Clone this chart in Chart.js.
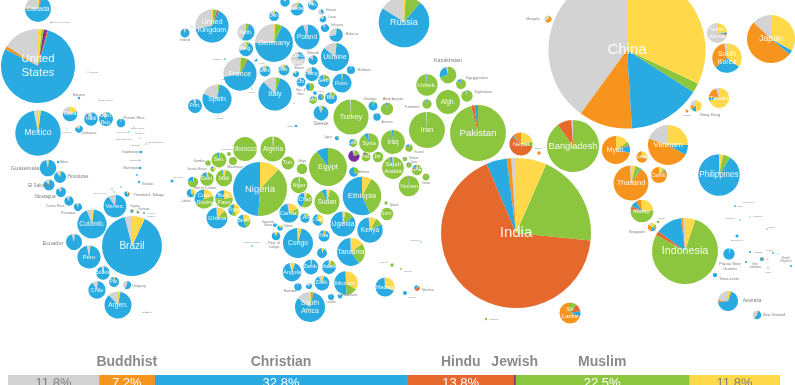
<!DOCTYPE html>
<html>
<head>
<meta charset="utf-8">
<style>
  html, body { margin: 0; padding: 0; background: #fff; overflow: hidden; }
  #wrap { position: relative; width: 795px; height: 385px; overflow: hidden; }
  canvas { position: absolute; left: 0; filter: blur(0.35px); }
  #mapChart { top: 0; }
  #worldChart { top: 350px; }
</style>
<script src="https://cdn.jsdelivr.net/npm/chart.js@4"></script>
</head>
<body>
<div id="wrap">
  <canvas id="mapChart" width="795" height="350"></canvas>
  <canvas id="worldChart" width="795" height="46"></canvas>
</div>
<script>
// World total
const religions = ["Unaffiliated", "Buddhist", "Christian", "Hindu", "Jewish", "Muslim", "Folk"];
const worldShare = [11.8, 7.2, 32.8, 13.8, 0.2, 22.5, 11.8];
const religionColours = ["#d3d3d3", "#f7941e", "#29abe2", "#e5682c", "#7b2d9e", "#8cc63f", "#ffd94a"];

// Countries, one line per region. Every array below follows this order.
const countries = [
  "Canada", "United States", "Mexico", "Cuba", "Haiti", "Dominican Republic", "Puerto Rico", "Jamaica", "Guatemala", "Honduras", "El Salvador", "Nicaragua", "Costa Rica", "Panama", "Venezuela", "Trinidad & Tobago", "Guyana", "Suriname", "Colombia", "Brazil", "Ecuador", "Peru", "Bolivia", "Paraguay", "Uruguay", "Chile", "Argentina",
  "United Kingdom", "Ireland", "Netherlands", "Belgium", "Germany", "Denmark", "Norway", "Sweden", "Finland", "France", "Spain", "Portugal", "Italy", "Switzerland", "Austria", "Czech Republic", "Slovakia", "Poland", "Estonia", "Latvia", "Lithuania", "Belarus", "Ukraine", "Moldova", "Hungary", "Slovenia", "Croatia", "Bosnia", "Serbia", "Romania", "Kosovo", "Macedonia", "Albania", "Bulgaria", "Greece", "Cyprus", "Russia", "Luxembourg",
  "Turkey", "Georgia", "Armenia", "Azerbaijan", "Kazakhstan", "Uzbekistan", "Kyrgyzstan", "Tajikistan", "Afghanistan", "Turkmenistan", "Iran", "Pakistan", "Syria", "Iraq", "Lebanon", "Israel", "Palestine", "Jordan", "Kuwait", "Bahrain", "Qatar", "UAE", "Saudi Arabia", "Oman", "Yemen",
  "Egypt", "Libya", "Tunisia", "Algeria", "Morocco", "Nigeria", "Senegal", "Western Sahara", "Mauritania", "Gambia", "Guinea-Bissau", "Guinea", "Mali", "Sierra Leone", "Liberia", "Cote d'Ivoire", "Burkina Faso", "Ghana", "Togo", "Benin", "Niger", "Chad", "Cameroon", "CAR", "Equatorial Guinea", "Gabon", "Rep. of Congo", "Congo", "Angola", "Namibia", "South Africa", "Sudan", "South Sudan", "Ethiopia", "Eritrea", "Djibouti", "Somalia", "Uganda", "Kenya", "Rwanda", "Burundi", "Tanzania", "Zambia", "Malawi", "Zimbabwe", "Botswana", "Mozambique", "Lesotho", "Swaziland", "Madagascar", "Mauritius",
  "India", "Nepal", "Bangladesh", "Sri Lanka", "China", "Mongolia", "North Korea", "South Korea", "Japan", "Taiwan", "Hong Kong", "Myanmar", "Laos", "Vietnam", "Thailand", "Cambodia", "Malaysia", "Singapore", "Philippines", "Indonesia", "Timor-Leste", "Papua New Guinea", "Australia", "New Zealand", "Fiji"
];
const mapX = [
  38,38,38,70,91,106,121,79,48,60,49,61,69,78,115,127,132,138,92,132,74,89,103,114,127,97,118,
  212,185,246,246,274,274,285,297,313,240,217,195,275,265,284,298,313,307,321,323,325,336,335,351,312,296,301,310,324,342,315,321,313,331,321,337,404,256,
  351,373,377,387,448,427,461,467,448,427,427,478,369,393,353,354,366,378,409,405,409,417,393,426,409,
  328,302,288,273,245,260,219,229,233,208,213,207,224,193,191,204,224,217,234,244,299,305,289,305,275,280,276,298,292,298,310,327,318,362,354,386,387,343,370,324,322,351,311,329,322,309,346,331,340,385,417,
  516,521,573,570,627,548,717,727,771,719,696,616,642,668,631,659,642,652,719,685,715,729,728,757,762
];
const mapY = [
  9,66,133,114,119,119,123,129,168,177,185,192,201,207,206,194,211,212,224,246,242,257,273,282,285,290,305,
  26,33,32,49,43,16,2,9,5,74,99,106,94,71,70,59,60,37,12,19,28,35,57,70,74,74,82,87,81,83,93,97,100,98,113,138,22,60,
  117,106,117,109,75,85,84,96,102,104,130,133,143,142,143,156,157,157,148,159,165,170,168,177,186,
  167,169,163,149,149,189,160,154,161,163,169,179,178,182,193,199,199,218,210,221,185,200,213,218,225,228,236,243,272,287,307,202,220,196,172,203,214,224,230,236,253,252,267,267,283,286,283,297,296,287,288,
  233,144,146,313,50,19,33,58,39,98,106,150,157,145,183,175,211,227,175,251,275,254,301,315,259
];
// Population in millions
const population = [
  36,297,112,11.6,10,10.6,4,3,15,7.8,6.6,5.4,4.8,3.5,28,1.6,.7,.5,46,195,14,29,10,5.4,3.5,16.4,39.5,
  60,4.4,16,11,78,5.5,4.8,9.4,5.4,60,46,10.6,60,6.6,6.6,10.6,4.8,34,1.6,2.4,3.5,10,43,3.5,10.6,2,4.4,3.5,7.8,20,.8,2,3.2,7.8,12,1.1,139,.5,
  67,4.4,3,8.3,15,25,5.4,7,31,4.8,70,170,21,31,3.5,7,4.4,6,3,1.2,1.6,6,26,2.5,23,
  78,6,9,34,31,158,12,.9,3.5,1.6,1.6,10,15,6,4,20,17,24,7,9.5,15,12,20,5,.9,1.6,4,49,19,3,49,34,7,81,5,.6,8.6,34,35,7,5.4,42,12,10.6,12,2,30,2,1.2,20,1.7,
  1220,29,147,24,1340,2.7,21.7,47,125,22,7,43,7,87,66,14,28,4,93,236,1.1,7,22,4,.9
];
// Share of each religion, percent
const unaffiliated = [
  24,16,3,23,10,11,2,17,4,10,12,13,9,7,10,2,2,5,6,4,5,3,4,1,41,9,12,
  28,6,42,29,25,12,10,27,18,28,19,4,12,12,13,76,15,5,60,21,10,28,14,2,19,18,6,2,3,1,1,1,2,5,6,1,16,26,
  1,1,1,0,4,1,1,2,0,1,1,0,1,0,1,3,0,0,0,2,1,1,1,0,0,
  0,0,0,1,0,0,0,0,0,1,0,2,3,0,1,0,0,1,0,3,0,3,3,1,5,6,9,1,5,3,15,1,1,0,0,0,0,1,2,1,1,1,1,1,8,20,1,3,10,1,0,
  1,0,1,0,40,35,71,3,13,5,23,0,1,20,1,0,1,16,0,1,0,0,24,37,1
];
const buddhist = [
  1,1.5,0,0,0,0,0,0,0,0,0,0,0,0,0,0,0,1,0,0,0,0,0,0,0,0,0,
  0,0,0,0,0,0,0,0,0,0,0,0,0,0,0,0,0,0,0,0,0,0,0,0,0,0,0,0,0,0,0,0,0,0,0,0,0,0,
  0,0,0,0,0,0,0,0,0,0,0,0,0,0,0,0,0,0,0,2,3,2,0,1,0,
  0,0,0,0,0,0,0,0,0,0,0,0,0,0,0,0,0,0,0,0,0,0,0,0,0,0,0,0,0,0,0,0,0,0,0,0,0,0,0,0,0,0,0,0,0,0,0,0,0,0,0,
  1,12,0,70,11,55,2,33,51,20,13,72,66,47,89,85,8,33,0,1,0,0,3,2,0
];
const christian = [
  69,78,95,59,87,88,97,77,95,88,87,86,90,91,89,65,66,52,92,89,94,95,93,96,58,90,85,
  65,92,50,64,68,83,85,67,81,63,78,94,83,81,80,23,85,94,40,76,90,71,84,97,81,78,93,46,77,98,90,59,18,80,88,73,73,71,
  0,89,98,3,26,2,11,1,0,6,0,2,7,2,38,2,3,5,14,14,14,13,4,6,1,
  10,3,0,0,0,49,6,0,0,4,20,11,3,21,60,35,23,74,43,53,1,40,68,85,90,76,85,95,90,97,81,6,60,57,63,3,0,84,80,93,91,59,97,80,87,72,50,97,88,67,33,
  4.4,2,0,8,15,2,3,29,3,5,14,8,2,8,1,2,9,18,91,13,99,97,67,57,64
];
const hindu = [
  1,.5,0,0,0,0,0,0,0,0,0,0,0,0,0,18,25,20,0,0,0,0,0,0,0,0,0,
  1,0,0,0,0,0,0,0,0,0,0,0,0,0,0,0,0,0,0,0,0,0,0,0,0,0,0,0,0,0,0,0,0,0,0,0,0,0,
  0,0,0,0,0,0,0,0,0,0,0,2,0,0,0,0,0,0,8,10,14,7,1,6,1,
  0,0,0,0,0,0,0,0,0,0,0,0,0,0,0,0,0,0,0,0,0,0,0,0,0,0,0,0,0,0,1,0,0,0,0,0,0,0,0,0,0,0,0,0,0,0,0,0,0,0,49,
  67,58,9,12,0,0,0,0,0,0,0,1,0,0,0,0,6,5,0,2,0,0,1,2,28
];
const jewish = [
  1,1.5,0,0,0,0,0,0,0,0,0,0,0,0,0,0,0,0,0,0,0,0,0,0,0,0,0,
  1,0,1,0,0,0,0,0,0,1,0,0,0,0,0,0,0,0,0,0,0,0,0,0,0,0,0,0,0,0,0,0,0,0,0,0,0,0,
  0,0,0,0,0,0,0,0,0,0,0,0,0,0,0,75,10,0,0,0,0,0,0,0,0,
  0,0,0,0,0,0,0,0,0,0,0,0,0,0,0,0,0,0,0,0,0,0,0,0,0,0,0,0,0,0,0,0,0,0,0,0,0,0,0,0,0,0,0,0,0,0,0,0,0,0,0,
  0,0,0,0,0,0,0,0,0,0,0,0,0,0,0,0,0,0,0,0,0,0,0,0,0
];
const muslim = [
  2,1,0,0,0,0,0,0,0,0,0,0,0,0,0,6,6,15,0,0,0,0,0,0,0,0,1,
  4,1,6,6,6,4,4,5,1,7.5,2,1,4,6,6,0,0,0,0,0,0,0,1,0,0,4,1,51,20,1,9,40,80,14,5,25,10,3,
  99,10,1,97,70,97,88,97,100,93,99,96,92,98,61,19,87,95,76,70,68,76,93,86,98,
  90,97,100,98,100,39,93,100,100,95,45,85,90,75,12,45,55,12,14,24,97,52,12,9,0,11,1,1,0,0,2,89,6,35,37,97,100,12,10,2,2,25,1,13,1,0,15,0,0,2,17,
  20,6,90,10,2,3,0,0,0,0,1,4,0,0,5,3,52,14,6,78,0,0,2,1,6
];
const folk = [
  2,1.5,2,18,3,1,1,6,1,2,1,1,1,2,1,9,1,7,2,7,1,2,3,3,1,1,2,
  1,1,0,1,1,1,1,1,0,.5,1,1,1,1,1,1,0,1,0,3,0,1,1,1,0,0,0,1,0,0,0,0,0,1,1,1,1,0,
  0,0,0,0,0,0,0,0,0,0,0,0,0,0,0,1,0,0,2,2,0,1,1,1,0,
  0,0,0,1,0,12,1,0,0,0,35,2,4,4,27,20,22,13,43,20,2,5,17,5,5,7,5,3,5,0,1,4,33,8,0,0,0,3,8,4,6,15,1,6,4,8,34,0,2,30,1,
  6.6,22,0,0,32,5,24,35,33,70,49,15,31,25,4,10,24,14,3,5,1,3,3,1,1
];
const shares = [unaffiliated, buddhist, christian, hindu, jewish, muslim, folk];

// Names written inside the pies
const insideLabels = {
  "Canada": "Canada", "United States": "United\nStates", "Mexico": "Mexico", "Cuba": "Cuba", "Haiti": "Haiti", "Dominican Republic": "Dom.\nRep.", "Venezuela": "Venez.", "Colombia": "Colomb.", "Brazil": "Brazil", "Peru": "Peru", "Bolivia": "Bolivia", "Paraguay": "Par.", "Chile": "Chile", "Argentina": "Argen.",
  "United Kingdom": "United\nKingdom", "Netherlands": "Neth.", "Belgium": "Belg.", "Germany": "Germany", "Denmark": "Den.", "Sweden": "Sweden", "Finland": "Fin.", "France": "France", "Spain": "Spain", "Portugal": "Port.", "Italy": "Italy", "Switzerland": "Switz.", "Austria": "Aus.", "Czech Republic": "Czech\nRep.", "Poland": "Poland", "Ukraine": "Ukraine", "Hungary": "Hung.", "Croatia": "Cro.", "Serbia": "Serb.", "Romania": "Rom.", "Albania": "Alb.", "Bulgaria": "Bul.", "Russia": "Russia",
  "Turkey": "Turkey", "Uzbekistan": "Uzbek.", "Afghanistan": "Afgh.", "Iran": "Iran", "Pakistan": "Pakistan", "Syria": "Syria", "Iraq": "Iraq", "Lebanon": "Leb.", "Palestine": "Pal.", "Jordan": "Jor.", "UAE": "UAE", "Saudi Arabia": "Saudi\nArabia", "Yemen": "Yemen",
  "Egypt": "Egypt", "Tunisia": "Tun.", "Algeria": "Algeria", "Morocco": "Morocco", "Nigeria": "Nigeria", "Senegal": "Sen.", "Guinea": "Guin.", "Mali": "Mali", "Cote d'Ivoire": "Cote\nd'Ivoire", "Burkina Faso": "Burk.\nFaso", "Ghana": "Ghana", "Togo": "Togo", "Benin": "Benin", "Niger": "Niger", "Chad": "Chad", "Cameroon": "Camer.", "CAR": "C.A.R.", "Congo": "Congo", "Angola": "Angola", "South Africa": "South\nAfrica", "Sudan": "Sudan", "South Sudan": "S.Sud.", "Ethiopia": "Ethiopia", "Somalia": "Som.", "Uganda": "Uganda", "Kenya": "Kenya", "Rwanda": "Rwa.", "Tanzania": "Tanzania", "Zambia": "Zamb.", "Malawi": "Malawi", "Zimbabwe": "Zimb.", "Mozambique": "Mozam.", "Madagascar": "Madag.",
  "India": "India", "Nepal": "Nepal", "Bangladesh": "Bangladesh", "Sri Lanka": "Sri\nLanka", "China": "China", "North Korea": "North\nKorea", "South Korea": "South\nKorea", "Japan": "Japan", "Taiwan": "Taiwan", "Myanmar": "Myan.", "Laos": "Laos", "Vietnam": "Vietnam", "Thailand": "Thailand", "Cambodia": "Camb.", "Malaysia": "Malay.", "Philippines": "Philippines", "Indonesia": "Indonesia"
};

// Very small places, one religion each
const islands = ["Saint Pierre", "Bermuda", "Bahamas", "Turks & Caicos", "Cayman Islands", "US Virgin Is.", "British Virgin Is.", "Anguilla", "Saint Kitts", "Antigua", "Guadeloupe", "Dominica", "Martinique", "Belize", "Barbados", "St Lucia", "St Vincent", "Grenada", "Aruba", "French Guiana", "Falkland Is.", "Iceland", "Channel Is.", "Andorra", "Monaco", "Gibraltar", "San Marino", "Malta", "Cape Verde", "Sao Tome", "Seychelles", "Reunion", "Comoros", "Mayotte", "Maldives", "Bhutan", "Macau", "Brunei", "Solomon Is.", "New Caledonia", "Vanuatu", "Samoa", "American Samoa", "French Polynesia", "Tonga", "Guam", "Micronesia", "Marshall Is.", "Kiribati"];
const islandX = [51,88,79,99,67,129,134,136,140,146,141,140,140,58,139,137,114,121,112,144,147,192,225,229,252,218,294,296,172,252,421,405,392,401,486,539,687,658,737,746,750,773,778,791,768,735,740,750,767];
const islandY = [22,72,98,100,129,132,127,133,138,144,152,160,168,162,182,175,192,187,189,213,312,27,59,81,89,116,103,126,181,246,242,293,265,269,319,153,111,222,236,262,252,253,254,266,268,206,220,217,229];
const islandPopulation = [.02,.06,.34,.04,.05,.11,.03,.02,.05,.09,.4,.07,.4,.3,.3,.17,.1,.1,.1,.2,.01,.05,.16,.08,.04,.03,.03,.4,.5,.16,.09,.85,.7,.2,.3,.7,.5,.4,.5,.25,.24,.18,.07,.27,.1,.18,.1,.05,.1];
const islandReligion = [2,2,2,2,2,2,2,2,2,2,2,2,2,2,2,2,2,2,2,2,2,2,2,2,2,2,2,2,2,2,2,2,5,5,5,1,1,5,2,2,2,2,2,2,2,2,2,2,2];

// Names written next to the pies: text, x, y, font size
const sideLabels = [
  ["Saint Pierre & Miquelon",60,22,1.9],["Bermuda",94,72,2],["Bahamas",79,95,3],["Turks & Caicos",106,100,2],["Puerto Rico",134,118,4],["Jamaica",89,133,4],["Cayman Is.",67,132,1.9],["British Virgin Is.",138,128,2],["US Virgin Is.",122,132,2],["Anguilla",140,133,2],["Saint Kitts & Nevis",124,139,2],["Montserrat",135,145,2],["Antigua & Barbuda",155,142,2],["Guadeloupe",131,152,3.2],["Dominica",135,160,2.4],["Martinique",131,168,3.2],["Belize",64,162,3],["Guatemala",25,168,5.8],["Honduras",78,177,4.8],["El Salvador",40,186,4.6],["Nicaragua",45,197,4.6],["Costa Rica",55,206,3.8],["Panama",68,213,3.8],["Ecuador",53,243,5.6],["Trinidad & Tobago",149,195,3.8],["Barbados",148,184,2.6],["Saint Vincent",100,193,2.2],["Guyana",135,206,2.6],["Suriname",144,209,2.6],["French\nGuiana",151,215,2.4],["Uruguay",139,286,3.6],["Falkland Is.",147,312,2],
  ["Ireland",185,40,3.4],["Slovak",313,53,4],["Sloven",299,68,3.2],["Bos. &\nHerz.",301,92,3],["Estonia",331,10,3],["Latvia",332,17,3],["Lithuania",337,25,3],["Belarus",352,34,3.8],["Moldova",364,70,3.4],["Greece",321,124,4.6],["Malta",290,126,2.4],["Cyprus",328,137,2.6],["Luxem.",262,63,2],["Channel Is.",218,59,1.9],["Andorra",224,79,1.9],["Monaco",252,92,1.9],["Gibraltar",220,118,1.9],["Mont.",315,97,2.2],["Maced.",321,91,2.2],["Georgia",370,99,3.6],["Azerbaijan",393,99,4.4],["Armenia",387,122,3],["Kazakhstan",448,61,5.4],["Kyrgyzstan",477,78,4.4],["Tajikistan",483,92,4.4],["Turkmen",412,107,4],["Kuwait",419,152,3],["Bahrain",414,158,2.6],["Qatar",414,162,2.6],["Oman",426,183,3],
  ["Eritrea",364,172,3.6],["Djibouti",394,205,2.6],["Libya",302,161,3.6],["W. Sahara",227,149,2.4],["Gambia",199,161,3.2],["Guinea Bissau",197,169,3],["Mauritania",235,167,3.2],["Sierra Leone",205,188,4],["Liberia",186,201,3],["Cape Verde",178,177,2],["Equatorial\nGuinea",268,224,2.6],["Gabon",288,226,3],["Rep. of\nCongo",274,245,3.6],["Sao Tome & Principe",252,243,1.8],["Namibia",290,291,3.4],["Swaziland",349,295,3.4],["Lesotho",331,302,2.6],["Comoros",384,262,2.2],["Mayotte",408,271,2.2],["Mauritius",428,290,3],["Reunion",412,297,2.2],["Seychelles",415,240,1.9],
  ["Maldives",494,319,2.4],["Bhutan",538,148,2.2],["Mongolia",533,19,3.2],["Macau",687,115,2.4],["Hong Kong",710,115,4],["Singapore",637,232,3.6],["Brunei",662,218,2.4],["Papua New\nGuinea",730,266,4.2],["Timor-Leste",729,279,3.8],["Australia",752,301,4.8],["New Zealand",774,315,3.8],["Solomon Is.",737,240,2.4],["Fiji",767,259,2.4],["New\nCaledonia",755,266,2.6],["Vanuatu",758,252,2.4],["French\nPolynesia",786,260,2.6],["Samoa",770,250,2],["Tonga",768,272,2],["Guam",740,206,2],["N. Mariana Is.",749,202,1.9],["Micronesia",730,218,1.9],["Marshall Is.",758,216,1.9],["Kiribati",771,227,1.9]
];

const FONT = '"Liberation Sans", Arial, sans-serif';
const RADIUS_PER_ROOT = 2.147; // pie radius grows with the root of population

function drawLines(ctx, text, x, y, size) {
  const lines = text.split("\n");
  const lineHeight = size * 1.18;
  lines.forEach((line, n) => {
    ctx.fillText(line, x, y + (n - (lines.length - 1) / 2) * lineHeight);
  });
}

// Turns each bubble of the first dataset into a pie, going anticlockwise from the top
const piePlugin = {
  id: "pies",
  afterDatasetsDraw(chart) {
    const ctx = chart.ctx;
    const points = chart.getDatasetMeta(0).data;
    ctx.save();
    points.forEach((point, i) => {
      const r = point.options.radius;
      const total = shares.reduce((sum, s) => sum + s[i], 0);
      ctx.beginPath();
      ctx.arc(point.x, point.y, r + 0.8, 0, Math.PI * 2);
      ctx.fillStyle = "#fff";
      ctx.fill();
      let angle = -Math.PI / 2;
      shares.forEach((s, k) => {
        if (!s[i]) return;
        const sweep = s[i] / total * Math.PI * 2;
        ctx.beginPath();
        ctx.moveTo(point.x, point.y);
        ctx.arc(point.x, point.y, r, angle, angle - sweep, true);
        ctx.closePath();
        ctx.fillStyle = religionColours[k];
        ctx.fill();
        angle -= sweep;
      });
    });

    ctx.textAlign = "center";
    ctx.textBaseline = "middle";
    ctx.fillStyle = "rgba(255,255,255,0.92)";
    points.forEach((point, i) => {
      const label = insideLabels[countries[i]];
      if (!label) return;
      const size = Math.min(15, 3.8 + 0.21 * point.options.radius);
      ctx.font = size + "px " + FONT;
      drawLines(ctx, label, point.x, point.y, size);
    });

    const xScale = chart.scales.x;
    const yScale = chart.scales.y;
    ctx.fillStyle = "#808080";
    sideLabels.forEach(([text, x, y, size]) => {
      ctx.font = size + "px " + FONT;
      drawLines(ctx, text, xScale.getPixelForValue(x), yScale.getPixelForValue(y), size);
    });
    ctx.restore();
  }
};

new Chart(document.getElementById("mapChart"), {
  type: "bubble",
  data: {
    datasets: [
      {
        data: countries.map((name, i) => ({ x: mapX[i], y: mapY[i], r: Math.sqrt(population[i]) * RADIUS_PER_ROOT })),
        backgroundColor: "rgba(0,0,0,0)",
        borderWidth: 0
      },
      {
        data: islands.map((name, i) => ({ x: islandX[i], y: islandY[i], r: Math.max(0.6, Math.sqrt(islandPopulation[i]) * RADIUS_PER_ROOT) })),
        backgroundColor: islandReligion.map(k => religionColours[k]),
        borderWidth: 0
      }
    ]
  },
  options: {
    responsive: false,
    animation: false,
    events: [],
    layout: { autoPadding: false, padding: 0 },
    scales: {
      x: { type: "linear", min: 0, max: 795, display: false },
      y: { type: "linear", min: 0, max: 350, reverse: true, display: false }
    },
    plugins: { legend: { display: false }, tooltip: { enabled: false } }
  },
  plugins: [piePlugin]
});

// Labels of the world bar: names above, percentages inside
const worldLabelsPlugin = {
  id: "worldLabels",
  afterDatasetsDraw(chart) {
    const ctx = chart.ctx;
    ctx.save();
    ctx.textAlign = "center";
    ctx.textBaseline = "middle";
    chart.data.datasets.forEach((dataset, k) => {
      const bar = chart.getDatasetMeta(k).data[0];
      const centre = (bar.x + bar.base) / 2;
      if (k !== 0 && k !== 6) {
        ctx.font = "bold 14px " + FONT;
        ctx.fillStyle = "#8a8a8a";
        ctx.fillText(religions[k], centre, 12);
      }
      if (k !== 4) {
        ctx.font = "13px " + FONT;
        ctx.fillStyle = (k === 0 || k === 6) ? "#7f7f7f" : "#fff";
        ctx.fillText(worldShare[k].toFixed(1) + "%", centre, 33);
      }
    });
    ctx.restore();
  }
};

new Chart(document.getElementById("worldChart"), {
  type: "bar",
  data: {
    labels: ["World"],
    datasets: religions.map((name, k) => ({
      label: name,
      data: [worldShare[k]],
      backgroundColor: religionColours[k],
      barPercentage: 1,
      categoryPercentage: 1
    }))
  },
  options: {
    indexAxis: "y",
    responsive: false,
    animation: false,
    events: [],
    layout: { padding: { left: 8, right: 15, top: 25, bottom: 5 } },
    scales: {
      x: { stacked: true, min: 0, max: 100.1, display: false },
      y: { stacked: true, display: false }
    },
    plugins: { legend: { display: false }, tooltip: { enabled: false } }
  },
  plugins: [worldLabelsPlugin]
});

// quick check that the columns line up
[mapX, mapY, population].concat(shares).forEach((column, n) => {
  if (column.length !== countries.length) console.error("column " + n + " has " + column.length + " of " + countries.length);
});
</script>
</body>
</html>
